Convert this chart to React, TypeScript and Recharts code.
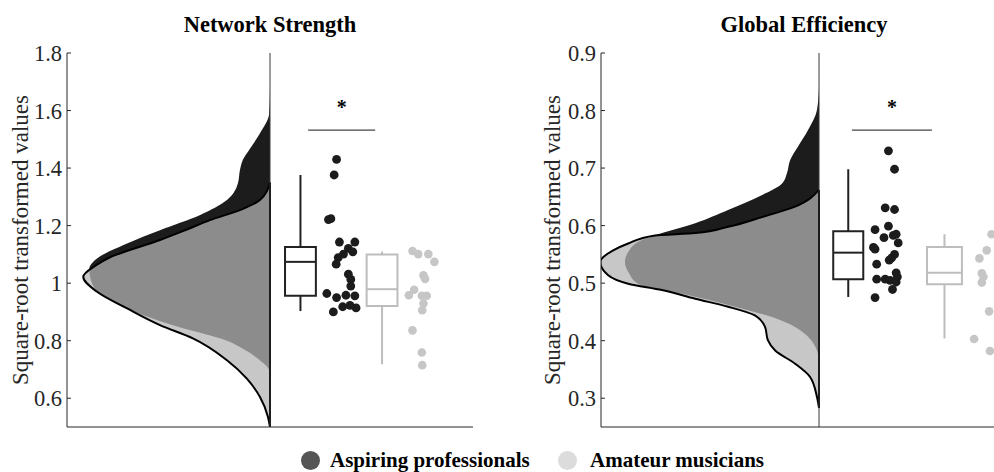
import React from "react";
import {
  ComposedChart,
  Area,
  Scatter,
  XAxis,
  YAxis,
  ReferenceLine,
  ReferenceArea,
  ReferenceDot,
} from "recharts";

const FONT = '"Liberation Serif", "Times New Roman", serif';
const AXIS = "#262626";
const DARK = "#1c1c1c";
const LIGHT_PT = "#c6c6c6";
const LIGHT_BOX = "#bdbdbd";

// ---- Network strength ----
const strengthTicks = [0.6, 0.8, 1, 1.2, 1.4, 1.6, 1.8];

// half-violin widths: [value, density]
const strengthDensityPro: [number, number][] = [
  [0.69, 0], [0.709, 0.07], [0.732, 0.25], [0.764, 0.57], [0.8, 1.06],
  [0.854, 2.39], [0.9, 3.33], [0.941, 3.94], [0.97, 4.24], [1.022, 4.43],
  [1.05, 4.45], [1.086, 4.26], [1.138, 3.52], [1.184, 2.71], [1.237, 1.72],
  [1.289, 1.06], [1.347, 0.79], [1.393, 0.74], [1.428, 0.67], [1.468, 0.49],
  [1.52, 0.25], [1.59, 0.02], [1.677, 0],
];
const strengthDensityAma: [number, number][] = [
  [0.5, 0], [0.535, 0.05], [0.605, 0.25], [0.668, 0.57], [0.732, 1.06],
  [0.808, 1.9], [0.854, 2.71], [0.912, 3.52], [0.97, 4.26], [1.022, 4.6],
  [1.06, 4.31], [1.09, 3.94], [1.15, 2.71], [1.184, 2.09], [1.219, 1.48],
  [1.254, 0.74], [1.289, 0.25], [1.35, 0],
];

// min, q1, median, q3, max
const strengthBoxPro = [0.903, 0.956, 1.074, 1.126, 1.376];
const strengthBoxAma = [0.718, 0.921, 0.979, 1.1, 1.11];

const strengthPro = [
  1.43, 1.376, 1.221, 1.224, 1.143, 1.143, 1.121, 1.109, 1.101, 1.089, 1.066,
  1.031, 1.013, 0.99, 0.964, 0.95, 0.958, 0.956, 0.918, 0.923, 0.914, 0.9,
];
const strengthProJitter = [
  1.64, 1.58, 1.44, 1.5, 1.71, 2.09, 1.93, 2.04, 1.81, 1.68, 1.63,
  1.93, 1.99, 1.99, 1.4, 1.64, 1.87, 2.09, 1.79, 1.97, 2.12, 1.56,
];
const strengthAma = [
  1.112, 1.101, 1.101, 1.074, 1.027, 1.015, 0.977, 0.958, 0.956, 0.956,
  0.929, 0.906, 0.836, 0.759, 0.715,
];
const strengthAmaJitter = [
  3.51, 3.65, 3.9, 4.05, 3.78, 3.82, 3.55, 3.42, 3.74, 3.86,
  3.78, 3.75, 3.51, 3.74, 3.75,
];

// ---- Global efficiency ----
const efficiencyTicks = [0.3, 0.4, 0.5, 0.6, 0.7, 0.8, 0.9];

const efficiencyDensityPro: [number, number][] = [
  [0.37, 0], [0.383, 0.05], [0.407, 0.27], [0.424, 0.59], [0.441, 1.16],
  [0.459, 2.07], [0.481, 3.33], [0.499, 4.46], [0.517, 4.68], [0.537, 4.78],
  [0.554, 4.7], [0.575, 4.36], [0.583, 4.04], [0.604, 3.05], [0.627, 2.24],
  [0.653, 1.4], [0.673, 0.91], [0.691, 0.79], [0.714, 0.71], [0.737, 0.52],
  [0.766, 0.27], [0.801, 0.05], [0.841, 0],
];
const efficiencyDensityAma: [number, number][] = [
  [0.283, 0], [0.302, 0.05], [0.337, 0.22], [0.36, 0.59], [0.383, 1.08],
  [0.401, 1.26], [0.424, 1.33], [0.444, 1.58], [0.459, 2.24], [0.473, 3.05],
  [0.488, 3.87], [0.499, 4.7], [0.514, 5.2], [0.537, 5.39], [0.557, 5.07],
  [0.569, 4.7], [0.583, 4.04], [0.587, 3.05], [0.598, 2.24], [0.615, 1.4],
  [0.633, 0.59], [0.662, 0],
];

const efficiencyBoxPro = [0.476, 0.507, 0.553, 0.59, 0.698];
const efficiencyBoxAma = [0.404, 0.498, 0.518, 0.563, 0.585];

const efficiencyPro = [
  0.73, 0.698, 0.631, 0.628, 0.593, 0.599, 0.579, 0.583, 0.585, 0.57, 0.562,
  0.559, 0.55, 0.544, 0.54, 0.533, 0.518, 0.511, 0.507, 0.507, 0.505, 0.502,
  0.489, 0.475,
];
const efficiencyProJitter = [
  1.71, 1.86, 1.63, 1.86, 1.38, 1.71, 1.6, 1.83, 1.9, 1.95, 1.34,
  1.38, 1.86, 1.79, 1.73, 1.42, 1.9, 1.93, 1.42, 1.63, 1.75, 1.9,
  1.81, 1.38,
];
const efficiencyAma = [0.585, 0.557, 0.543, 0.517, 0.511, 0.501, 0.451, 0.403, 0.382];
const efficiencyAmaJitter = [4.25, 4.13, 3.95, 4.01, 4.05, 4.01, 4.19, 3.82, 4.21];

const groups = ["Aspiring professionals", "Amateur musicians"];

const toBand = (d: [number, number][]) => d.map(([y, w]) => ({ y, band: [-w, 0] }));
const toPoints = (vals: number[], jit: number[]) => vals.map((y, i) => ({ x: jit[i], y }));

const dot = (r: number, fill: string) => (p: any) => (
  <circle cx={p.cx} cy={p.cy} r={r} fill={fill} />
);

function boxElements(key: string, s: number[], c: number, hw: number, color: string) {
  const [mn, q1, md, q3, mx] = s;
  const common = { stroke: color, strokeWidth: 2, ifOverflow: "visible" as const };
  return [
    <ReferenceLine key={key + "lw"} segment={[{ x: c, y: mn }, { x: c, y: q1 }]} {...common} />,
    <ReferenceLine key={key + "uw"} segment={[{ x: c, y: q3 }, { x: c, y: mx }]} {...common} />,
    <ReferenceArea key={key + "box"} x1={c - hw} x2={c + hw} y1={q1} y2={q3} fill="#fff" fillOpacity={1} {...common} />,
    <ReferenceLine key={key + "md"} segment={[{ x: c - hw, y: md }, { x: c + hw, y: md }]} {...common} />,
  ];
}

type PanelProps = {
  left: number;
  xDomain: [number, number];
  yDomain: [number, number];
  ticks: number[];
  densPro: [number, number][];
  densAma: [number, number][];
  boxPro: number[];
  boxAma: number[];
  pro: { x: number; y: number }[];
  ama: { x: number; y: number }[];
  boxPos: [number, number];
  boxHalf: [number, number];
  sig: { x1: number; x2: number; y: number; star: number };
  labelX: number;
};

function Panel(p: PanelProps) {
  return (
    <div style={{ position: "absolute", left: p.left, top: 0 }}>
      <ComposedChart
        width={494}
        height={472}
        layout="vertical"
        margin={{ top: 53, right: 21, bottom: 43, left: 0 }}
      >
        <XAxis
          type="number"
          dataKey="x"
          domain={p.xDomain}
          allowDataOverflow
          tick={false}
          tickLine={false}
          height={2}
          axisLine={{ stroke: AXIS }}
        />
        <YAxis
          type="number"
          dataKey="y"
          reversed
          domain={p.yDomain}
          allowDataOverflow
          ticks={p.ticks}
          interval={0}
          width={67}
          tickSize={-4}
          tickMargin={9}
          tickFormatter={(v: number) => String(v)}
          axisLine={{ stroke: AXIS }}
          tickLine={{ stroke: AXIS }}
          tick={{ fill: AXIS, fontSize: 22.5, fontFamily: FONT }}
          label={(lp: any) => {
            const vb = lp.viewBox;
            const x = vb.x + p.labelX;
            const y = vb.y + vb.height / 2;
            return (
              <text
                x={x}
                y={y}
                transform={`rotate(-90, ${x}, ${y})`}
                textAnchor="middle"
                dominantBaseline="central"
                fill={AXIS}
                fontSize={23}
                fontFamily={FONT}
              >
                Square-root transformed values
              </text>
            );
          }}
        />
        <ReferenceLine x={0} stroke="#3a3a3a" strokeWidth={1} />
        <Area
          data={toBand(p.densPro)}
          dataKey="band"
          type="monotone"
          fill={DARK}
          fillOpacity={1}
          stroke="none"
          isAnimationActive={false}
        />
        <Area
          data={toBand(p.densAma)}
          dataKey="band"
          type="monotone"
          fill="#b4b4b4"
          fillOpacity={0.74}
          stroke="#000"
          strokeWidth={2}
          isAnimationActive={false}
        />
        {boxElements("p", p.boxPro, p.boxPos[0], p.boxHalf[0], "#222")}
        {boxElements("a", p.boxAma, p.boxPos[1], p.boxHalf[1], LIGHT_BOX)}
        <Scatter data={p.pro} shape={dot(4.4, DARK)} isAnimationActive={false} />
        <Scatter data={p.ama} shape={dot(4.3, LIGHT_PT)} isAnimationActive={false} />
        <ReferenceLine
          segment={[{ x: p.sig.x1, y: p.sig.y }, { x: p.sig.x2, y: p.sig.y }]}
          stroke="#444"
          strokeWidth={1.3}
        />
        <ReferenceDot
          x={(p.sig.x1 + p.sig.x2) / 2}
          y={p.sig.star}
          r={0}
          fill="none"
          stroke="none"
          label={{ value: "*", position: "center", fill: "#000", fontSize: 20, fontWeight: "bold", fontFamily: FONT }}
        />
      </ComposedChart>
    </div>
  );
}

export default function App() {
  return (
    <div
      style={{
        position: "absolute",
        left: 0,
        top: 0,
        width: 994,
        height: 472,
        overflow: "hidden",
        background: "#fff",
        fontFamily: FONT,
      }}
    >
      <Panel
        left={0}
        xDomain={[-5, 5]}
        yDomain={[0.5, 1.8]}
        ticks={strengthTicks}
        densPro={strengthDensityPro}
        densAma={strengthDensityAma}
        boxPro={strengthBoxPro}
        boxAma={strengthBoxAma}
        pro={toPoints(strengthPro, strengthProJitter)}
        ama={toPoints(strengthAma, strengthAmaJitter)}
        boxPos={[0.75, 2.76]}
        boxHalf={[0.38, 0.38]}
        sig={{ x1: 0.94, x2: 2.59, y: 1.532, star: 1.612 }}
        labelX={20}
      />
      <Panel
        left={534}
        xDomain={[-5.37, 4.63]}
        yDomain={[0.25, 0.9]}
        ticks={efficiencyTicks}
        densPro={efficiencyDensityPro}
        densAma={efficiencyDensityAma}
        boxPro={efficiencyBoxPro}
        boxAma={efficiencyBoxAma}
        pro={toPoints(efficiencyPro, efficiencyProJitter)}
        ama={toPoints(efficiencyAma, efficiencyAmaJitter)}
        boxPos={[0.72, 3.09]}
        boxHalf={[0.37, 0.43]}
        sig={{ x1: 0.81, x2: 2.78, y: 0.766, star: 0.806 }}
        labelX={18}
      />
      <svg
        width={994}
        height={472}
        style={{ position: "absolute", left: 0, top: 0, pointerEvents: "none" }}
      >
        <g fontFamily={FONT} fontWeight="bold" fill="#000">
          <text x={270} y={32} textAnchor="middle" fontSize={22.5}>
            Network Strength
          </text>
          <text x={804} y={32} textAnchor="middle" fontSize={22.5}>
            Global Efficiency
          </text>
          <circle cx={310.5} cy={460.5} r={9.5} fill="#555" />
          <text x={330} y={466.5} fontSize={21}>
            {groups[0]}
          </text>
          <circle cx={567.5} cy={460.5} r={9.5} fill="#dcdcdc" />
          <text x={590} y={466.5} fontSize={21}>
            {groups[1]}
          </text>
        </g>
      </svg>
    </div>
  );
}
